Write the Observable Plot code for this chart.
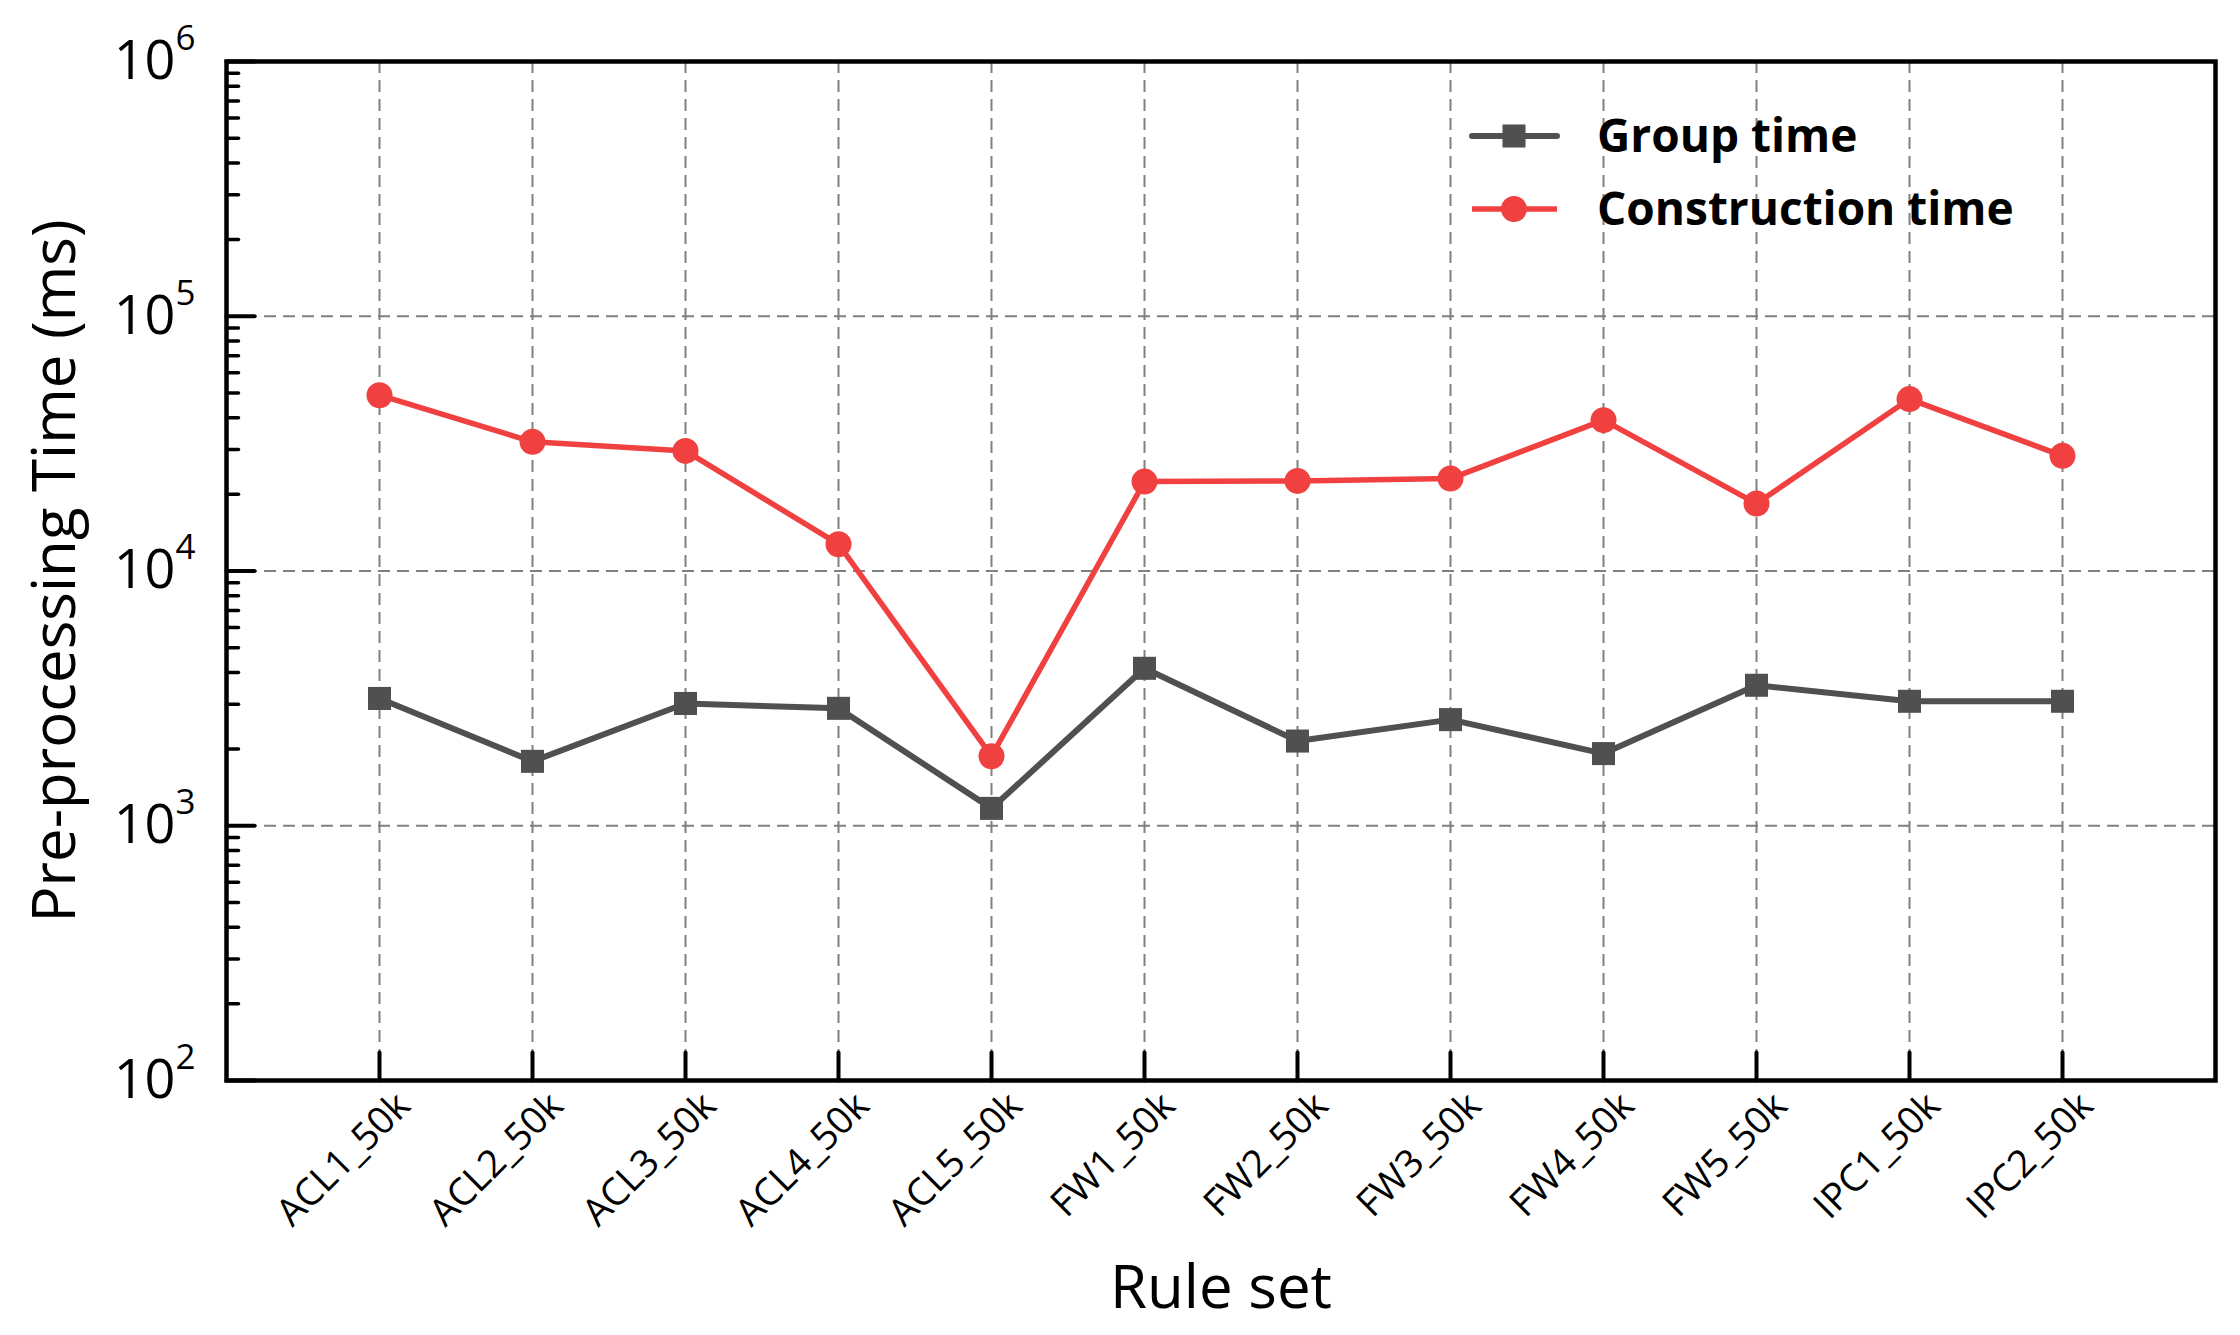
<!DOCTYPE html>
<html>
<head>
<meta charset="utf-8">
<script src="https://cdn.jsdelivr.net/npm/d3@7"></script>
<script src="https://cdn.jsdelivr.net/npm/@observablehq/plot@0.6"></script>
<style>
  html, body { margin: 0; padding: 0; background: #fff; }
  #chart { position: relative; width: 2240px; height: 1335px; }
</style>
</head>
<body>
<div id="chart"></div>
<script>
// ---- data ----
const categories = ["ACL1_50k", "ACL2_50k", "ACL3_50k", "ACL4_50k", "ACL5_50k", "FW1_50k",
                    "FW2_50k", "FW3_50k", "FW4_50k", "FW5_50k", "IPC1_50k", "IPC2_50k"];
const groupTime        = [3160, 1790, 3020, 2890, 1170, 4150, 2150, 2610, 1920, 3560, 3080, 3080];
const constructionTime = [48980, 32140, 29610, 12740, 1875, 22440, 22580, 23050, 39090, 18390, 47290, 28310];
const seriesNames   = ["Group time", "Construction time"];
const seriesColors  = ["#505050", "#f04040"];
const seriesSymbols = ["square", "circle"];
const yTickValues   = [1e2, 1e3, 1e4, 1e5, 1e6];
const yDomain       = [1e2, 1e6];
const xTitle = "Rule set";
const yTitle = "Pre-processing Time (ms)";

// ---- derived table ----
const rows = categories.flatMap((c, i) => [
  {set: c, series: seriesNames[0], value: groupTime[i]},
  {set: c, series: seriesNames[1], value: constructionTime[i]}
]);
const minorTicks = [];
for (let e = 2; e < 6; e++) for (let m = 2; m < 10; m++) minorTicks.push(m * Math.pow(10, e));

const tickShape = {draw(ctx, l) { ctx.moveTo(0, 0); ctx.lineTo(0, -l); }};
const gridStyle = {stroke: "#808080", strokeOpacity: 1, strokeWidth: 2, strokeDasharray: "12,7"};
const lineWidths = [6, 5.5];

const plot = Plot.plot({
  width: 2240,
  height: 1335,
  marginLeft: 226,
  marginRight: 25,
  marginTop: 61,
  marginBottom: 255,
  style: {fontFamily: "'Open Sans', sans-serif", background: "#fff", color: "#000"},
  x: {type: "point", domain: categories, padding: 1, label: null},
  y: {type: "log", domain: yDomain, label: null},
  color: {domain: seriesNames, range: seriesColors},
  symbol: {domain: seriesNames, range: seriesSymbols},
  marks: [
    Plot.gridX(categories, gridStyle),
    Plot.gridY(yTickValues, gridStyle),
    Plot.axisY(yTickValues, {
      tickSize: 0, tickPadding: 31, fontSize: 54,
      tickFormat: d => `10^${Math.round(Math.log10(d))}`
    }),
    Plot.axisX(categories, {tickSize: 0, tickPadding: 19, tickRotate: -45, fontSize: 38, dx: 24}),
    // inward tick marks
    Plot.vector(yTickValues, {y: d => d, frameAnchor: "left", rotate: 90, length: 28, anchor: "start",
      shape: tickShape, stroke: "#000", strokeWidth: 4}),
    Plot.vector(minorTicks, {y: d => d, frameAnchor: "left", rotate: 90, length: 12, anchor: "start",
      shape: tickShape, stroke: "#000", strokeWidth: 3.5}),
    Plot.vector(categories, {x: d => d, frameAnchor: "bottom", rotate: 0, length: 28, anchor: "start",
      shape: tickShape, stroke: "#000", strokeWidth: 4}),
    // data
    ...seriesNames.map((s, i) => Plot.line(rows.filter(r => r.series === s), {
      x: "set", y: "value", stroke: "series", strokeWidth: lineWidths[i], strokeLinejoin: "round"})),
    Plot.dot(rows, {x: "set", y: "value", symbol: "series", fill: "series", r: 13, stroke: null}),
    Plot.frame({stroke: "#000", strokeWidth: 4.5}),
    // axis titles
    Plot.text([xTitle], {frameAnchor: "bottom", dy: 208, fontSize: 60, lineAnchor: "middle",
      textAnchor: "middle", fill: "#000"}),
    Plot.text([yTitle], {frameAnchor: "left", rotate: -90, dx: -171, fontSize: 60, lineAnchor: "middle",
      textAnchor: "middle", fill: "#000"})
  ]
});

// superscript exponents on y tick labels
d3.select(plot).selectAll('g[aria-label="y-axis tick label"] text').each(function () {
  const t = this.textContent;
  const parts = t.split("^");
  if (parts.length !== 2) return;
  this.textContent = parts[0];
  d3.select(this).append("tspan").attr("dy", -29).attr("font-size", 35).text(parts[1]);
});

// legend (inside the frame, upper right)
const svg = d3.select(plot);
const lg = svg.append("g").attr("aria-label", "legend").attr("text-anchor", "start");
const symbolTypes = {square: d3.symbolSquare, circle: d3.symbolCircle};
seriesNames.forEach((name, i) => {
  const cy = 136 + i * 73;
  lg.append("line")
    .attr("x1", 1472).attr("x2", 1557).attr("y1", cy).attr("y2", cy)
    .attr("stroke", seriesColors[i]).attr("stroke-width", lineWidths[i])
    .attr("stroke-linecap", i === 0 ? "round" : "butt");
  lg.append("path")
    .attr("transform", `translate(1514,${cy})`)
    .attr("d", d3.symbol(symbolTypes[seriesSymbols[i]], Math.PI * 13 * 13)())
    .attr("fill", seriesColors[i]);
  lg.append("text")
    .attr("x", 1597).attr("y", cy).attr("dy", "0.35em")
    .attr("text-anchor", "start")
    .attr("font-size", 46).attr("font-weight", 700).attr("fill", "#000")
    .text(name);
});

document.getElementById("chart").appendChild(plot);
</script>
</body>
</html>
